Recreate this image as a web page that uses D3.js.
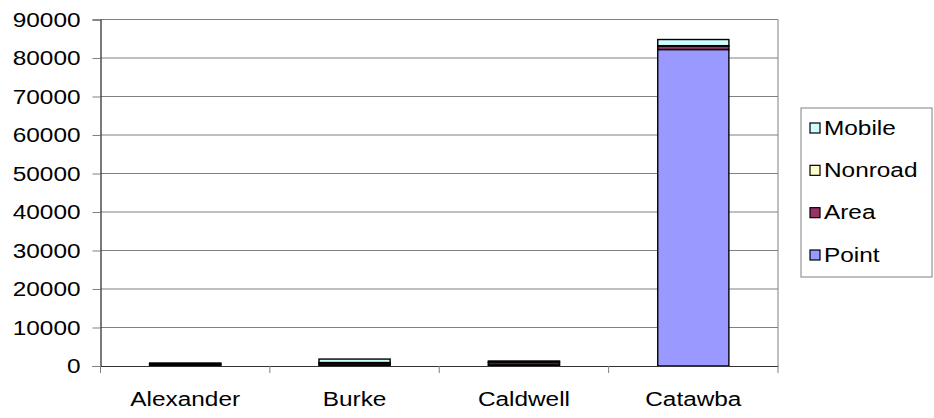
<!DOCTYPE html>
<html>
<head>
<meta charset="utf-8">
<script src="https://cdn.jsdelivr.net/npm/d3@7/dist/d3.min.js"></script>
<style>
  html, body { margin: 0; padding: 0; background: #fff; }
  svg { display: block; }
  text { font-family: "Liberation Sans", Arial, sans-serif; font-size: 19.5px; fill: #000; }
</style>
</head>
<body>
<svg id="chart" width="934" height="418"></svg>
<script>
// Emissions by county, stacked by source type
const counties = ["Alexander", "Burke", "Caldwell", "Catawba"];
const seriesNames = ["Point", "Area", "Nonroad", "Mobile"];
const pointValues   = [200, 300, 300, 82200];
const areaValues    = [300, 450, 600, 950];
const nonroadValues = [80, 150, 100, 50];
const mobileValues  = [200, 900, 300, 1600];
const yTicks = [0, 10000, 20000, 30000, 40000, 50000, 60000, 70000, 80000, 90000];
const seriesColors = ["#9999FF", "#993366", "#FFFFCC", "#CCFFFF"];

const svg = d3.select("#chart");
const plot = { left: 100.5, right: 778, top: 19.5, bottom: 366 };
const STRETCH = 1.25;

// Widen glyphs horizontally around each label's own anchor
function widen(sel) {
  sel.each(function () {
    const t = d3.select(this);
    const x0 = +t.attr("x") || 0;
    t.attr("x", x0 / STRETCH).attr("transform", `scale(${STRETCH},1)`);
  });
}

const rows = counties.map((c, i) => ({
  county: c,
  Point: pointValues[i],
  Area: areaValues[i],
  Nonroad: nonroadValues[i],
  Mobile: mobileValues[i]
}));
const stacked = d3.stack().keys(seriesNames)(rows);

const x = d3.scaleBand()
  .domain(counties)
  .range([plot.left, plot.right])
  .paddingInner(0.58)
  .paddingOuter(0.29);

const y = d3.scaleLinear()
  .domain([0, 90000])
  .range([plot.bottom, plot.top]);

// Horizontal gridlines
svg.append("g")
  .selectAll("line")
  .data(yTicks.filter(d => d > 0))
  .join("line")
  .attr("x1", plot.left).attr("x2", plot.right)
  .attr("y1", d => y(d)).attr("y2", d => y(d))
  .attr("stroke", "#808080").attr("stroke-width", 1);

// Right border of the plot area
svg.append("line")
  .attr("x1", plot.right).attr("x2", plot.right)
  .attr("y1", plot.top).attr("y2", plot.bottom)
  .attr("stroke", "#808080").attr("stroke-width", 1);

// Stacked bars
svg.append("g")
  .selectAll("g")
  .data(stacked)
  .join("g")
  .attr("fill", (d, i) => seriesColors[i])
  .selectAll("rect")
  .data(d => d)
  .join("rect")
  .attr("x", d => x(d.data.county))
  .attr("width", x.bandwidth())
  .attr("y", d => y(d[1]))
  .attr("height", d => y(d[0]) - y(d[1]))
  .attr("stroke", "#000")
  .attr("stroke-width", 1.4);

// Y axis
const yAxis = d3.axisLeft(y)
  .tickValues(yTicks)
  .tickSize(8)
  .tickPadding(12)
  .tickFormat(d3.format("d"));
const yg = svg.append("g")
  .attr("transform", `translate(${plot.left},0)`)
  .call(yAxis);
yg.attr("font-size", null).attr("font-family", null);
yg.select(".domain").attr("stroke", "#222").attr("stroke-width", 1.2);
yg.selectAll(".tick line").attr("stroke", "#808080");
yg.selectAll(".tick text")
  .attr("dy", "0.35em")
  .call(widen);

// X axis with ticks at category boundaries
const xAxis = d3.axisBottom(x).tickSize(0).tickPadding(26);
const xg = svg.append("g")
  .attr("transform", `translate(0,${plot.bottom})`)
  .call(xAxis);
xg.attr("font-size", null).attr("font-family", null);
xg.select(".domain").attr("stroke", "#333").attr("stroke-width", 1.2);
xg.selectAll(".tick text")
  .attr("dy", "0.71em")
  .call(widen);

const step = x.step();
svg.append("g")
  .selectAll("line")
  .data(d3.range(counties.length + 1))
  .join("line")
  .attr("x1", i => plot.left + i * step).attr("x2", i => plot.left + i * step)
  .attr("y1", plot.bottom).attr("y2", plot.bottom + 7)
  .attr("stroke", "#808080").attr("stroke-width", 1);

// Legend
const legend = svg.append("g");
legend.append("rect")
  .attr("x", 801).attr("y", 108)
  .attr("width", 131).attr("height", 169)
  .attr("fill", "#fff").attr("stroke", "#808080").attr("stroke-width", 1);

const legendOrder = seriesNames.slice().reverse();
const ly = d3.scalePoint().domain(legendOrder).range([128, 255]);
const items = legend.selectAll("g.item")
  .data(legendOrder)
  .join("g")
  .attr("class", "item")
  .attr("transform", d => `translate(810,${ly(d)})`);
items.append("rect")
  .attr("x", 0).attr("y", -5)
  .attr("width", 10).attr("height", 10)
  .attr("fill", d => seriesColors[seriesNames.indexOf(d)])
  .attr("stroke", "#000").attr("stroke-width", 1.2);
items.append("text")
  .attr("x", 14).attr("dy", "0.35em")
  .text(d => d)
  .call(widen);
</script>
</body>
</html>
